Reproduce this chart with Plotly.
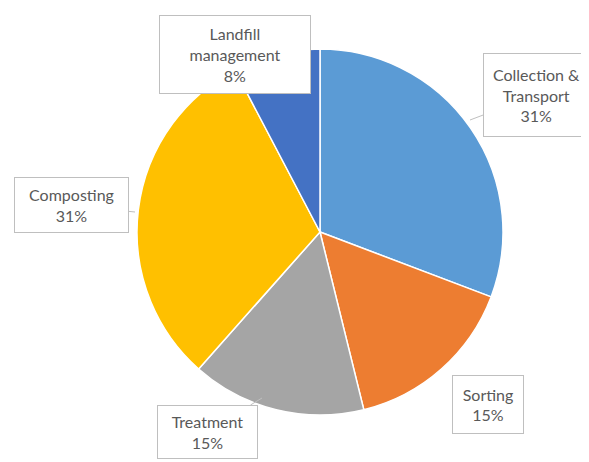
import plotly.graph_objects as go

# ---- data ----
categories = ["Collection & Transport", "Sorting", "Treatment", "Composting", "Landfill management"]
values = [30.8, 15.4, 15.4, 30.8, 7.7]
colors = ["#5B9BD5", "#ED7D31", "#A5A5A5", "#FFC000", "#4472C4"]
wrapped = {
    "Collection & Transport": "Collection &<br>Transport",
    "Landfill management": "Landfill<br>management",
}

OFF = 8  # page body margin
W, H = 589 - OFF, 462 - OFF


def px(x):
    return (x - OFF) / W


def py(y):
    return 1 - (y - OFF) / H


fig = go.Figure(go.Pie(
    labels=categories, values=values, sort=False, direction="clockwise", rotation=0,
    marker=dict(colors=colors, line=dict(color="white", width=1.5)),
    textinfo="none", hoverinfo="label+percent", showlegend=False,
    domain=dict(x=[px(137), px(503)], y=[py(415), py(49)]),
))

total = sum(values)
pct = [round(v / total * 100) for v in values]

# callout layout: (tip_x, tip_y, text_center_x, text_center_y, box_w, box_h, show_arrow) in screen pixels
callouts = {
    "Collection & Transport": (470, 120, 536, 95, 105, 82, True),
    "Sorting": (447, 370, 487.5, 404, 70, 57, True),
    "Treatment": (262, 398, 207, 431.5, 99, 52, True),
    "Composting": (135, 212, 71, 205.5, 113, 54, True),
    "Landfill management": (234.5, 54, 234.5, 54, 150, 77, False),
}

annotations = []
for cat, p in zip(categories, pct):
    tx, ty, cx, cy, bw, bh, arrow = callouts[cat]
    annotations.append(dict(
        x=px(tx), y=py(ty), xref="paper", yref="paper",
        ax=cx - tx, ay=cy - ty, axref="pixel", ayref="pixel",
        text=f"{wrapped.get(cat, cat)}<br>{p}%",
        showarrow=arrow, arrowhead=0, arrowwidth=1, arrowcolor="#BFBFBF",
        standoff=0, startstandoff=0,
        font=dict(family="Lato", size=16, color="#595959"),
        bgcolor="white", bordercolor="#BFBFBF", borderwidth=1, borderpad=0,
        width=bw, height=bh, align="center", valign="middle",
        xanchor="center", yanchor="middle",
    ))

fig.update_layout(
    width=W, height=H, margin=dict(l=0, r=0, t=0, b=0),
    paper_bgcolor="white", plot_bgcolor="white",
    annotations=annotations,
)
fig.write_html("out.html")
